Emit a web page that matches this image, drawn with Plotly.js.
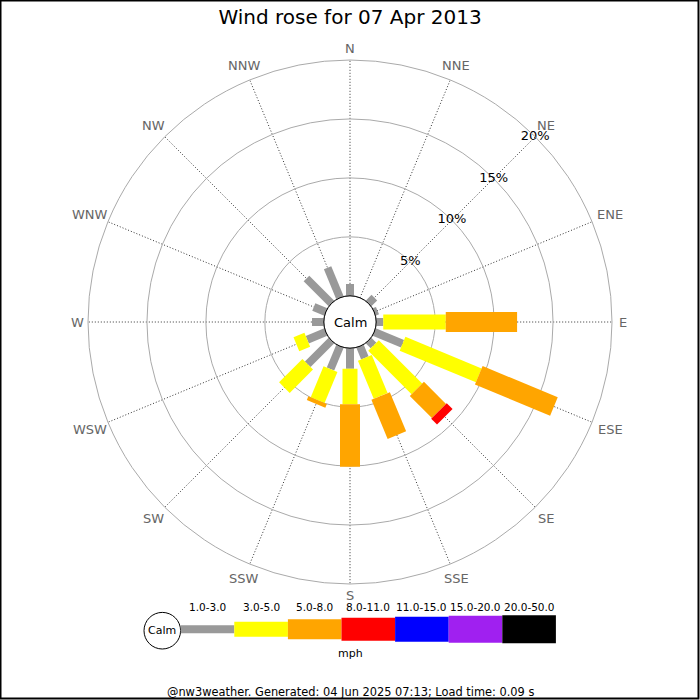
<!DOCTYPE html>
<html>
<head>
<meta charset="utf-8">
<script src="https://cdn.plot.ly/plotly-3.0.1.min.js"></script>
<style>html,body{margin:0;padding:0;background:#fff;}#chart{width:700px;height:700px;}</style>
</head>
<body>
<div id="chart"></div>
<script>
// ---- data ----
var directions = ['N','NNE','NE','ENE','E','ESE','SE','SSE','S','SSW','SW','WSW','W','WNW','NW','NNW'];
var speedBins = ['1.0-3.0','3.0-5.0','5.0-8.0','8.0-11.0','11.0-15.0','15.0-20.0','20.0-50.0'];
var s1_3   = [1.0, 0, 0.7, 0.3, 0.6, 2.6, 0.6, 1.07, 1.75, 2.1, 2.85, 1.7, 1.0, 1.1, 3.0, 2.75];
var s3_5   = [0, 0, 0, 0, 5.3, 7.0, 5.2, 3.5, 3.0, 2.85, 2.8, 1.0, 0, 0, 0, 0];
var s5_8   = [0, 0, 0, 0, 6.05, 6.9, 2.65, 3.6, 5.3, 0.35, 0, 0, 0, 0, 0, 0];
var s8_11  = [0, 0, 0, 0, 0, 0, 0.7, 0, 0, 0, 0, 0, 0, 0, 0, 0];
var s11_15 = [0, 0, 0, 0, 0, 0, 0, 0, 0, 0, 0, 0, 0, 0, 0, 0];
var s15_20 = [0, 0, 0, 0, 0, 0, 0, 0, 0, 0, 0, 0, 0, 0, 0, 0];
var s20_50 = [0, 0, 0, 0, 0, 0, 0, 0, 0, 0, 0, 0, 0, 0, 0, 0];
var radialTicks = [5, 10, 15, 20];
var radialTickText = ['5%', '10%', '15%', '20%'];

// ---- style ----
var series = [s1_3, s3_5, s5_8, s8_11, s11_15, s15_20, s20_50];
var colors = ['#999999', '#ffff00', '#ffa500', '#ff0000', '#0000ff', '#a020f0', '#000000'];
var barWidths = [8, 15, 20, 22, 25, 27, 29];
var legendHeights = [8, 15, 20, 23, 25, 27, 28];
var FONT = 'DejaVu Sans, sans-serif';
var angles = directions.map(function (d, i) { return i * 360 / directions.length; });

var traces = [];
var cum = directions.map(function () { return 0; });
series.forEach(function (vals, k) {
  var r = [], th = [];
  vals.forEach(function (v, i) {
    if (v > 0) {
      r.push(cum[i], cum[i] + v, null);
      th.push(angles[i], angles[i], null);
    }
    cum[i] += v;
  });
  if (r.length) {
    traces.push({
      type: 'scatterpolar', mode: 'lines', r: r, theta: th,
      connectgaps: false, hoverinfo: 'skip',
      line: {color: colors[k], width: barWidths[k]}
    });
  }
});
// radial tick labels along NE
traces.push({
  type: 'scatterpolar', mode: 'text',
  r: radialTicks, theta: radialTicks.map(function () { return 45; }),
  text: radialTickText, textposition: 'middle center',
  textfont: {family: FONT, size: 13, color: '#000'},
  hoverinfo: 'skip', cliponaxis: false
});

function px(x) { return x / 700; }
function py(y) { return (700 - y) / 700; }

var shapes = [];
var annotations = [];
// polar geometry (pixels)
var cx = 350, cy = 322, outerR = 262, cr = 26.2, labelR0 = 268;
// compass labels just outside the outer ring (box edge kept at labelR0)
directions.forEach(function (d, i) {
  var a = angles[i] * Math.PI / 180;
  var w = 9 + 8.5 * (d.length - 1), h = 10;
  var R = labelR0 + (w / 2) * Math.abs(Math.sin(a)) + (h / 2) * Math.abs(Math.cos(a));
  annotations.push({xref: 'paper', yref: 'paper',
    x: px(cx + R * Math.sin(a)), y: py(cy - R * Math.cos(a)),
    text: d, showarrow: false, xanchor: 'center', yanchor: 'middle',
    font: {family: FONT, size: 13, color: '#666666'}});
});
// calm circle in centre
shapes.push({type: 'circle', xref: 'paper', yref: 'paper',
  x0: px(cx - cr), x1: px(cx + cr), y0: py(cy + cr), y1: py(cy - cr),
  line: {color: '#000', width: 1}, fillcolor: 'rgba(0,0,0,0)'});
annotations.push({xref: 'paper', yref: 'paper', x: px(cx), y: py(cy), text: 'Calm',
  showarrow: false, xanchor: 'center', yanchor: 'middle',
  font: {family: FONT, size: 13, color: '#000'}});

// legend
var lcx = 162.3, lcy = 630.7, lr = 18.3;
shapes.push({type: 'circle', xref: 'paper', yref: 'paper',
  x0: px(lcx - lr), x1: px(lcx + lr), y0: py(lcy + lr), y1: py(lcy - lr),
  line: {color: '#000', width: 1}, fillcolor: 'rgba(0,0,0,0)'});
annotations.push({xref: 'paper', yref: 'paper', x: px(lcx), y: py(lcy), text: 'Calm',
  showarrow: false, xanchor: 'center', yanchor: 'middle',
  font: {family: FONT, size: 11, color: '#000'}});
var legX0 = 180.7, legStep = 53.6, legMid = 629.2;
speedBins.forEach(function (lab, k) {
  var x0 = legX0 + k * legStep, x1 = x0 + legStep, h = legendHeights[k];
  shapes.push({type: 'rect', xref: 'paper', yref: 'paper',
    x0: px(x0), x1: px(x1), y0: py(legMid + h / 2), y1: py(legMid - h / 2),
    line: {width: 0}, fillcolor: colors[k]});
  annotations.push({xref: 'paper', yref: 'paper', x: px((x0 + x1) / 2), y: py(607),
    text: lab, showarrow: false, xanchor: 'center', yanchor: 'middle',
    font: {family: FONT, size: 10.5, color: '#000'}});
});
annotations.push({xref: 'paper', yref: 'paper', x: px(350), y: py(653.5), text: 'mph',
  showarrow: false, xanchor: 'center', yanchor: 'middle',
  font: {family: FONT, size: 11, color: '#000'}});
annotations.push({xref: 'paper', yref: 'paper', x: px(350), y: py(691.5),
  text: '@nw3weather. Generated: 04 Jun 2025 07:13; Load time: 0.09 s',
  showarrow: false, xanchor: 'center', yanchor: 'middle',
  font: {family: FONT, size: 11.4, color: '#000'}});
// border
shapes.push({type: 'rect', xref: 'paper', yref: 'paper', x0: px(0.5), x1: px(698.5), y0: py(698.5), y1: py(0.5),
  line: {color: '#000', width: 2}, fillcolor: 'rgba(0,0,0,0)'});

var layout = {
  width: 700, height: 700,
  margin: {l: 0, r: 0, t: 0, b: 0, pad: 0},
  paper_bgcolor: '#fff',
  showlegend: false,
  title: {text: 'Wind rose for 07 Apr 2013', x: 0.5, xanchor: 'center', y: py(17), yanchor: 'middle',
    font: {family: FONT, size: 20, color: '#000'}},
  font: {family: FONT},
  polar: {
    domain: {x: [px(cx - outerR), px(cx + outerR)], y: [py(cy + outerR), py(cy - outerR)]},
    bgcolor: 'rgba(0,0,0,0)',
    hole: cr / outerR,
    radialaxis: {range: [0, 20], tickvals: radialTicks, showticklabels: false, ticks: '',
      showline: false, gridcolor: '#aaaaaa', gridwidth: 1, angle: 45},
    angularaxis: {type: 'linear', thetaunit: 'degrees', rotation: 90, direction: 'clockwise',
      tickmode: 'array', tickvals: angles, ticktext: directions, ticks: '', showticklabels: false,
      showline: true, linecolor: '#aaaaaa', linewidth: 1,
      gridcolor: '#333333', gridwidth: 1, griddash: '1px,2px'}
  },
  shapes: shapes,
  annotations: annotations
};

Plotly.newPlot('chart', traces, layout, {staticPlot: true, displayModeBar: false});
</script>
</body>
</html>
